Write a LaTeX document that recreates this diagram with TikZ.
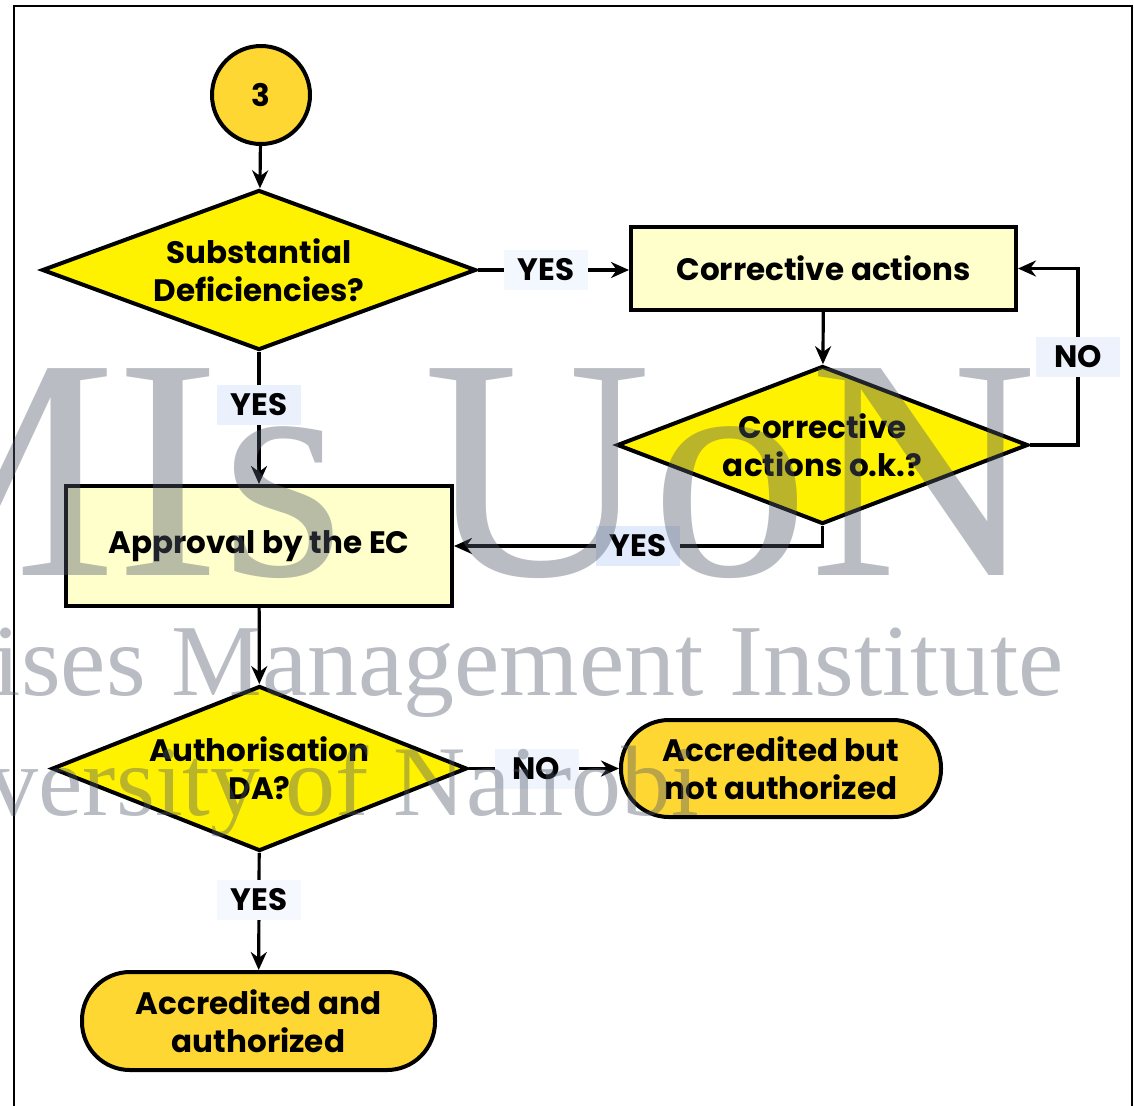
\documentclass[tikz,border=0pt]{standalone}
\usepackage{fontspec}
\setsansfont{Poppins}
\newfontfamily\wmfont{Liberation Serif}
\usetikzlibrary{shapes.geometric, arrows.meta}
\definecolor{gold}{RGB}{255,215,50}
\definecolor{paleyellow}{RGB}{255,255,204}
\definecolor{bgblue}{RGB}{214,227,251}
\definecolor{wmgrey}{RGB}{80,88,105}

\tikzset{
    txt/.style={font=\sffamily\bfseries\fontsize{15.5}{19}\selectfont, align=center},
    decision/.style={txt, diamond, shape aspect=2.6, draw, line width=2pt, fill=yellow, inner sep=0pt},
    process/.style={txt, rectangle, draw, line width=2pt, fill=paleyellow},
    terminal/.style={txt, rectangle, rounded corners=24pt, draw, line width=2pt, fill=gold},
    flow/.style={-{Stealth[length=9pt, width=8pt]}, line width=1.6pt},
    answer/.style={txt, fill=bgblue!#1!white, minimum width=42pt, minimum height=20pt, inner sep=2pt},
    watermark/.style={wmgrey, text opacity=0.4, inner sep=0pt}
}

\begin{document}
\begin{tikzpicture}[x=0.5pt, y=-0.5pt]

        \useasboundingbox (0,0) rectangle (1134,1105);
        \clip (0,0) rectangle (1134,1105);

        \shade[top color=white, middle color=bgblue, bottom color=white] (14,6) rectangle (1132,1105);
        \draw[line width=1pt] (14,6) rectangle (1132,1120);

        \node[txt, circle, draw, line width=2pt, fill=gold, minimum size=49pt] (start) at (261,95) {3};
        \node[decision, minimum width=217pt, minimum height=80pt] (subst) at (259,270) {Substantial\\Deficiencies?};
        \node[process, minimum width=192.5pt, minimum height=41.5pt] (corr) at (823.5,268.5) {Corrective actions};
        \node[decision, minimum width=205.5pt, minimum height=79pt] (corrok) at (822.5,445) {Corrective\\actions o.k.?};
        \node[process, minimum width=193pt, minimum height=60pt] (approval) at (259,546) {Approval by the EC};
        \node[decision, minimum width=207.5pt, minimum height=82.5pt] (auth) at (259.5,768.5) {Authorisation\\DA?};
        \node[terminal, minimum width=160pt, minimum height=48.5pt] (notauth) at (781,768.5) {Accredited but\\not authorized};
        \node[terminal, minimum width=176.5pt, minimum height=49pt] (accauth) at (258.5,1021) {Accredited and\\authorized};

        \draw[flow] (start) -- (subst);
        \draw[flow] (subst.east) -- node[answer=30, pos=0.45] {YES} (subst.east -| corr.west);
        \draw[flow] (corr) -- (corrok);
        \draw[flow] (corrok.east) -- ++(48,0) |- node[answer=45, pos=0.25] {NO} (corr.east);
        \draw[flow] (corrok.south) |- node[answer=70, pos=0.75] {YES} (approval.east);
        \draw[flow] (subst) -- node[answer=50, pos=0.4] {YES} (approval);
        \draw[flow] (approval) -- (auth);
        \draw[flow] (auth.east) -- node[answer=40, pos=0.45] {NO} (auth.east -| notauth.west);
        \draw[flow] (auth) -- node[answer=25, pos=0.4] {YES} (accauth);

        \node[watermark, font=\wmfont\fontsize{158}{158}\selectfont, anchor=base east] (wmtitle) at (1038,575) {MIs UoN};
        \node[watermark, font=\wmfont\fontsize{51}{51}\selectfont, anchor=base east] (wminst) at (1064,695) {ises Management Institute};
        \node[watermark, font=\wmfont\fontsize{50}{50}\selectfont, anchor=base west] (wmuni) at (-12,815) {versity of Nairobi};
    \end{tikzpicture}
\end{document}
